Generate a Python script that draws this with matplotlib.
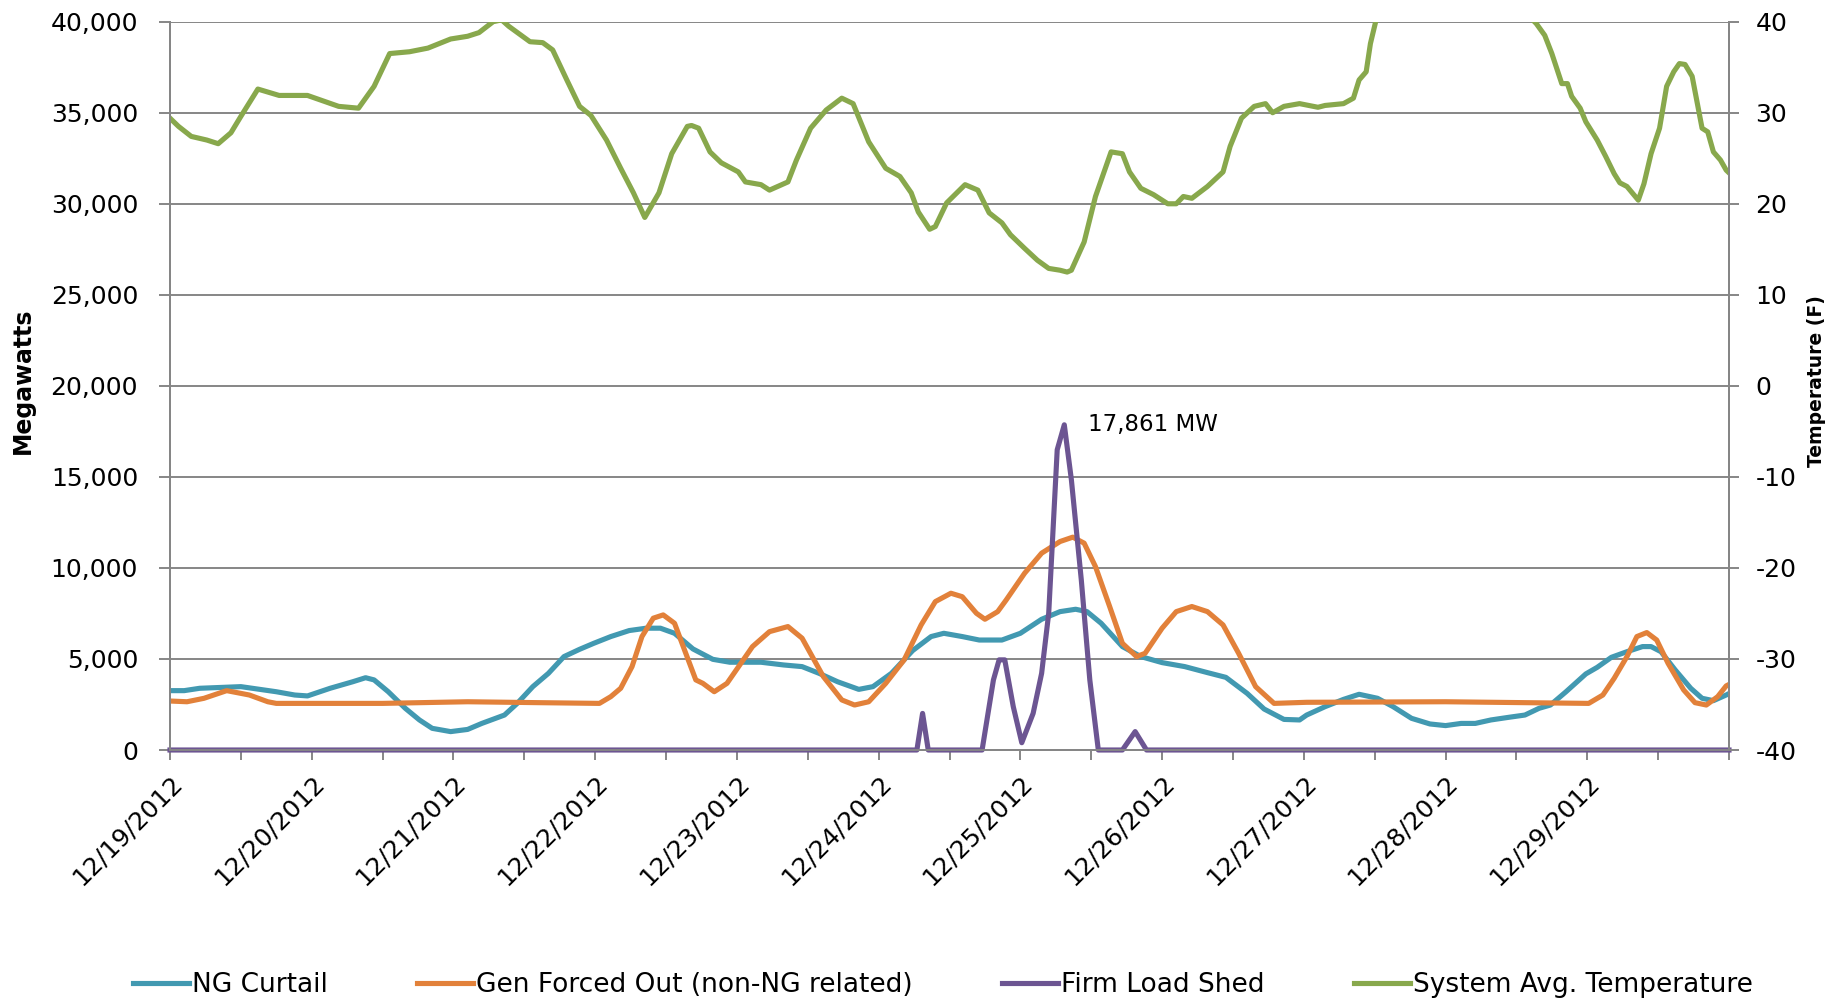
import numpy as np
import matplotlib
matplotlib.use("Agg")
import matplotlib.pyplot as plt
from matplotlib.ticker import FuncFormatter

# x values are days after 12/19/2012 00:00
date_labels = ["12/19/2012", "12/20/2012", "12/21/2012", "12/22/2012", "12/23/2012",
               "12/24/2012", "12/25/2012", "12/26/2012", "12/27/2012", "12/28/2012",
               "12/29/2012"]

ng_days = [0.00, 0.10, 0.21, 0.50, 0.75, 0.88, 0.97, 1.13, 1.29, 1.38, 1.44, 1.54, 1.66,
           1.76, 1.85, 1.98, 2.10, 2.20, 2.36, 2.45, 2.56, 2.67, 2.78, 2.89, 2.99, 3.11,
           3.24, 3.36, 3.46, 3.56, 3.69, 3.83, 3.95, 4.17, 4.33, 4.46, 4.58, 4.71, 4.86,
           4.96, 5.09, 5.24, 5.37, 5.46, 5.59, 5.71, 5.87, 6.00, 6.15, 6.28, 6.39, 6.47,
           6.57, 6.72, 6.85, 7.00, 7.16, 7.32, 7.45, 7.60, 7.72, 7.86, 7.97, 8.02, 8.15,
           8.28, 8.39, 8.52, 8.63, 8.76, 8.89, 9.00, 9.11, 9.21, 9.32, 9.45, 9.56, 9.66,
           9.74, 9.85, 9.99, 10.07, 10.17, 10.28, 10.39, 10.45, 10.52, 10.62, 10.73,
           10.81, 10.89, 10.98, 11.00]
ng_curtail = [3260, 3260, 3390, 3480, 3200, 3020, 2970, 3390, 3750, 3970, 3850, 3200, 2290,
              1650, 1190, 1010, 1130, 1460, 1920, 2560, 3480, 4210, 5130, 5530, 5860, 6230,
              6560, 6690, 6690, 6410, 5550, 4980, 4820, 4820, 4670, 4580, 4210, 3750, 3330,
              3480, 4210, 5460, 6230, 6410, 6230, 6040, 6040, 6410, 7180, 7600, 7730, 7600,
              6960, 5680, 5130, 4800, 4580, 4250, 3990, 3110, 2250, 1680, 1650, 1920, 2380,
              2780, 3060, 2840, 2380, 1740, 1430, 1340, 1460, 1460, 1650, 1800, 1920, 2290,
              2470, 3200, 4180, 4540, 5090, 5400, 5680, 5680, 5400, 4400, 3390,
              2840, 2710, 3020, 3100]

gen_days = [0.00, 0.12, 0.24, 0.40, 0.56, 0.69, 0.75, 1.50, 2.10, 2.60, 3.03, 3.11, 3.18,
            3.26, 3.33, 3.41, 3.48, 3.56, 3.63, 3.71, 3.76, 3.84, 3.93, 4.11, 4.23, 4.36,
            4.46, 4.61, 4.74, 4.83, 4.93, 5.05, 5.18, 5.30, 5.40, 5.51, 5.59, 5.69, 5.75,
            5.84, 5.90, 6.03, 6.15, 6.28, 6.37, 6.45, 6.53, 6.63, 6.72, 6.82, 6.88, 7.00,
            7.10, 7.21, 7.32, 7.43, 7.54, 7.66, 7.79, 8.02, 9.00, 10.01, 10.11, 10.19,
            10.28, 10.35, 10.42, 10.49, 10.57, 10.68, 10.76, 10.84, 10.92, 10.98, 11.00]
gen_forced_out = [2690, 2650, 2840, 3260, 3020, 2650, 2560, 2560, 2650, 2600, 2560, 2930, 3390,
                  4580, 6230, 7240, 7420, 6960, 5500, 3850, 3660, 3200, 3660, 5680, 6500, 6780,
                  6140, 4030, 2750, 2470, 2650, 3660, 4950, 6870, 8150, 8610, 8420, 7510, 7180,
                  7600, 8240, 9710, 10810, 11450, 11690, 11360, 10070, 7880, 5860, 5130, 5310, 6690,
                  7600, 7880, 7600, 6870, 5310, 3480, 2560, 2620, 2650, 2560, 3020, 3940,
                  5130, 6230, 6450, 6040, 4760, 3300, 2600, 2470, 2930, 3520, 3600]

shed_days = [0.00, 5.27, 5.31, 5.35, 5.73, 5.81, 5.85, 5.89, 5.95, 6.01, 6.09, 6.15, 6.20,
             6.26, 6.31, 6.36, 6.43, 6.49, 6.55, 6.72, 6.81, 6.89, 11.00]
firm_load_shed = [0, 0, 2010, 0, 0, 3850, 4950, 4950, 2380, 400, 2010, 4210, 7510,
                  16490, 17861, 14840, 9340, 3850, 0, 0, 1010, 0, 0]

temp_days = [0.00, 0.06, 0.15, 0.26, 0.34, 0.43, 0.50, 0.62, 0.77, 0.97, 1.19, 1.33, 1.44,
             1.55, 1.69, 1.82, 1.98, 2.10, 2.18, 2.28, 2.34, 2.39, 2.54, 2.63, 2.70, 2.80,
             2.89, 2.97, 3.08, 3.18, 3.27, 3.35, 3.45, 3.54, 3.65, 3.68, 3.73, 3.81, 3.89,
             4.01, 4.06, 4.17, 4.23, 4.36, 4.42, 4.52, 4.63, 4.74, 4.82, 4.93, 5.05, 5.15,
             5.23, 5.28, 5.36, 5.40, 5.48, 5.61, 5.70, 5.78, 5.87, 5.93, 6.03, 6.12, 6.20,
             6.28, 6.33, 6.36, 6.45, 6.53, 6.64, 6.72, 6.77, 6.85, 6.94, 7.04, 7.10, 7.15,
             7.21, 7.32, 7.43, 7.48, 7.56, 7.65, 7.73, 7.78, 7.86, 7.97, 8.10, 8.15, 8.28,
             8.35, 8.39, 8.44, 8.47, 8.51, 8.60, 8.80, 9.05, 9.30, 9.50, 9.64, 9.70, 9.75,
             9.82, 9.86, 9.89, 9.95, 9.99, 10.07, 10.13, 10.19, 10.23, 10.28, 10.36, 10.40,
             10.45, 10.51, 10.56, 10.61, 10.65, 10.69, 10.74, 10.81, 10.85, 10.89, 10.94,
             10.98, 11.00]
temperature = [29.4, 28.5, 27.4, 27.0, 26.6, 27.8, 29.6, 32.6, 31.9, 31.9, 30.7, 30.5, 32.9,
               36.5, 36.7, 37.1, 38.1, 38.4, 38.8, 40.0, 40.2, 39.5, 37.8, 37.7, 36.9, 33.6,
               30.7, 29.7, 27.0, 23.9, 21.2, 18.5, 21.2, 25.5, 28.5, 28.6, 28.3, 25.7, 24.5,
               23.5, 22.4, 22.1, 21.5, 22.4, 24.8, 28.3, 30.3, 31.6, 31.0, 26.8, 23.9, 23.0,
               21.2, 19.1, 17.2, 17.5, 20.1, 22.1, 21.5, 19.0, 17.9, 16.6, 15.1, 13.8, 12.9,
               12.7, 12.5, 12.7, 15.8, 20.8, 25.7, 25.5, 23.5, 21.7, 21.0, 20.0, 20.0, 20.8,
               20.6, 21.9, 23.5, 26.3, 29.4, 30.7, 31.0, 30.0, 30.7, 31.0, 30.6, 30.8, 31.0,
               31.6, 33.6, 34.5, 37.6, 40.2, 43.0, 46.0, 47.0, 45.0, 42.0, 39.8, 38.5, 36.5,
               33.2, 33.2, 31.8, 30.5, 29.0, 27.0, 25.2, 23.3, 22.3, 21.9, 20.4, 22.2,
               25.5, 28.3, 32.9, 34.5, 35.4, 35.3, 34.0, 28.3, 27.9, 25.7, 24.8,
               23.7, 23.4]

TEAL = "#4299B1"
ORANGE = "#E2813A"
PURPLE = "#6C5592"
GREEN = "#88A84C"
GRAY = "#868686"

plt.rcParams["font.family"] = "DejaVu Sans"
plt.rcParams["font.size"] = 18
plt.rcParams["axes.unicode_minus"] = False

fig = plt.figure(figsize=(18.41, 10), dpi=100)
ax = fig.add_axes([170 / 1841, 0.25, (1729 - 170) / 1841, 0.7283])
ax2 = ax.twinx()

lw = 3.7
l1, = ax.plot(ng_days, ng_curtail, color=TEAL, lw=lw, label="NG Curtail", zorder=3,
              solid_joinstyle="round")
l2, = ax.plot(gen_days, gen_forced_out, color=ORANGE, lw=lw,
              label="Gen Forced Out (non-NG related)", zorder=4, solid_joinstyle="round")
l3, = ax.plot(shed_days, firm_load_shed, color=PURPLE, lw=lw, label="Firm Load Shed",
              zorder=5, clip_on=False, solid_joinstyle="round")
l4, = ax2.plot(temp_days, temperature, color=GREEN, lw=lw, label="System Avg. Temperature",
               solid_joinstyle="round")

peak = int(np.argmax(firm_load_shed))
ax.annotate(f"{firm_load_shed[peak]:,} MW", xy=(shed_days[peak], firm_load_shed[peak]),
            xytext=(17, 0), textcoords="offset points", ha="left", va="center",
            fontsize=16.5)

ax.set_xlim(0, 11)
ax.set_ylim(0, 40000)
ax2.set_ylim(-40, 40)
ax.set_yticks(np.arange(0, 40001, 5000))
ax2.set_yticks(np.arange(-40, 41, 10))
ax.yaxis.set_major_formatter(FuncFormatter(lambda v, p: f"{int(v):,}"))

ticks = np.arange(0, 11.01, 0.5)
labels = [date_labels[int(t)] if t == int(t) and int(t) < len(date_labels) else "" for t in ticks]
ax.set_xticks(ticks)
ax.set_xticklabels(labels, rotation=45, ha="right", va="top", rotation_mode="anchor")

ax.grid(axis="y", color=GRAY, lw=1.4)
ax.set_axisbelow(True)
for a in (ax, ax2):
    a.spines["top"].set_visible(False)
    for side in ("left", "right", "bottom"):
        a.spines[side].set_color(GRAY)
        a.spines[side].set_linewidth(1.4)
ax.tick_params(axis="x", length=7, width=1.4, color=GRAY, pad=8)
ax.tick_params(axis="y", length=8, width=1.4, color=GRAY, pad=15)
ax2.tick_params(axis="y", length=7, width=1.4, color=GRAY, pad=12)

fig.text(23 / 1841, 1 - 381 / 1000, "Megawatts", rotation=90, ha="center", va="center",
         fontsize=17, fontweight="bold")
fig.text(1816 / 1841, 1 - 381 / 1000, "Temperature (F)", rotation=90, ha="center",
         va="center", fontsize=13.5, fontweight="bold")

fig.legend(handles=[l1, l2, l3, l4], loc="center", bbox_to_anchor=(943 / 1841, 1 - 985 / 1000),
           ncol=4, frameon=False, fontsize=19, handlelength=2.1, handletextpad=0.12,
           columnspacing=3.4)

fig.savefig("out.png", dpi=100)
